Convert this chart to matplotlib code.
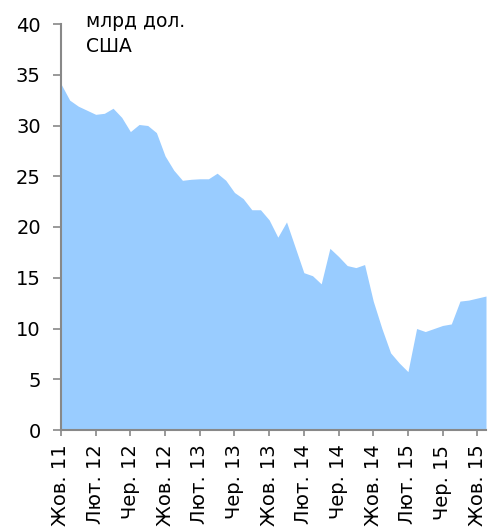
import numpy as np
import matplotlib
matplotlib.use('Agg')
import matplotlib.pyplot as plt

# monthly values, Oct 2011 .. Nov 2015
values = [34.1, 32.5, 31.9, 31.5, 31.1, 31.2, 31.7, 30.8, 29.4, 30.1, 30.0, 29.3,
          27.0, 25.6, 24.6, 24.7, 24.75, 24.75, 25.3, 24.6, 23.4, 22.8, 21.7, 21.7,
          20.7, 19.0, 20.5, 18.0, 15.5, 15.2, 14.4, 17.9, 17.1, 16.2, 16.0, 16.3,
          12.7, 10.0, 7.6, 6.6, 5.75, 10.0, 9.7, 10.0, 10.3, 10.45, 12.7, 12.8,
          13.0, 13.2]
tick_labels = ['Жов. 11', 'Лют. 12', 'Чер. 12', 'Жов. 12', 'Лют. 13', 'Чер. 13',
               'Жов. 13', 'Лют. 14', 'Чер. 14', 'Жов. 14', 'Лют. 15', 'Чер. 15',
               'Жов. 15']
unit_lines = ['млрд дол.', 'США']

x = np.arange(len(values))

fig = plt.figure(figsize=(4.9, 5.32), dpi=100)
ax = fig.add_axes([61 / 490, 1 - 430 / 532, 425 / 490, 406 / 532])

ax.fill_between(x, values, 0, color='#99ccff', linewidth=0)

ax.set_xlim(0, len(values) - 1)
ax.set_ylim(0, 40)
ax.set_yticks(range(0, 41, 5))
ax.set_xticks(x[::4])
ax.set_xticklabels(tick_labels, rotation=90, fontsize=14)
ax.tick_params(axis='y', labelsize=14, direction='out', length=5.5, width=1.2,
               color='#888888', pad=9)
ax.tick_params(axis='x', direction='out', length=4.5, width=1.2,
               color='#888888', pad=6)

for side in ['top', 'right']:
    ax.spines[side].set_visible(False)
for side in ['left', 'bottom']:
    ax.spines[side].set_color('#888888')
    ax.spines[side].set_linewidth(1.5)

# unit caption, one baseline per line
for i, line in enumerate(unit_lines):
    fig.text(86 / 490, 1 - (27 + 25 * i) / 532, line, fontsize=13.5,
             va='baseline', ha='left')

fig.savefig('out.png', dpi=100)
